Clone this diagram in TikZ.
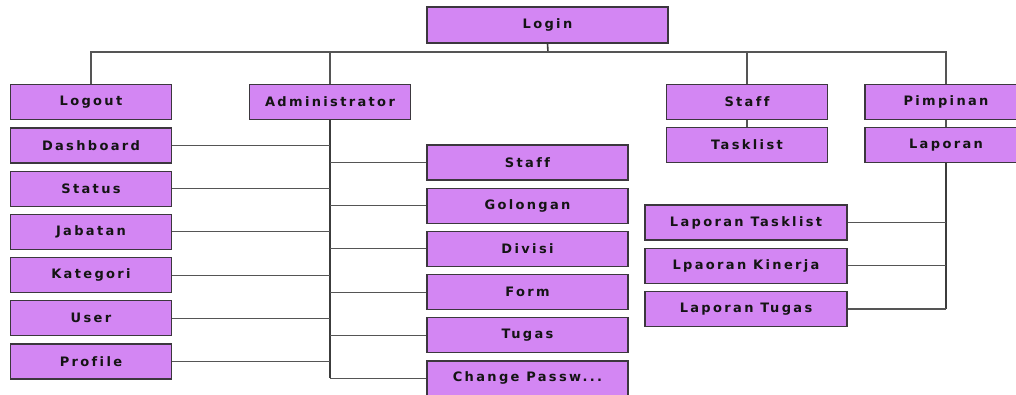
\documentclass[tikz,border=0pt]{standalone}
\usepackage{fontspec}
\newfontfamily\boxfont{DejaVu Sans}[LetterSpace=18,Ligatures=NoCommon]
\definecolor{boxfill}{RGB}{211,134,243}
\definecolor{boxline}{RGB}{60,55,62}
\definecolor{txt}{RGB}{20,20,20}
\definecolor{wire}{RGB}{85,85,85}
\tikzset{
  box/.style={draw=boxline, fill=boxfill, line width=1.4pt, minimum height=35, inner sep=0,
    text=txt, font=\boxfont\bfseries\fontsize{13}{14}\selectfont},
  leftbox/.style={box, minimum width=161},
  subbox/.style={box, minimum width=201},
  wire/.style={draw=wire, line width=1pt},
  trunk/.style={draw=wire!70!black, line width=1.6pt},
}
\begin{document}
\begin{tikzpicture}[x=1pt,y=-1pt]
\useasboundingbox (0,0) rectangle (1016,394);
\clip (0,0) rectangle (1016,394);
% top level
\node[box, minimum width=241, minimum height=36] (login) at (547.5,25) {Login};
\node[leftbox] (logout) at (91,102) {Logout};
\node[leftbox] (admin) at (330,102) {Administrator};
\node[leftbox] (staff) at (747,102) {Staff};
\node[leftbox, minimum width=162] (pimp) at (946,102) {Pimpinan};
\coordinate (bus) at (548,52);
% left column
\node[leftbox] (dash) at (91,145.5) {Dashboard};
\node[leftbox] (status) at (91,188.7) {Status};
\node[leftbox] (jab) at (91,231.9) {Jabatan};
\node[leftbox] (kat) at (91,275) {Kategori};
\node[leftbox] (user) at (91,318.2) {User};
\node[leftbox] (prof) at (91,361.4) {Profile};
% admin sub column
\node[subbox] (sstaff) at (527.5,162.5) {Staff};
\node[subbox] (gol) at (527.5,205.7) {Golongan};
\node[subbox] (div) at (527.5,248.9) {Divisi};
\node[subbox] (form) at (527.5,292) {Form};
\node[subbox] (tugas) at (527.5,335.2) {Tugas};
\node[subbox] (chpw) at (527.5,378.4) {Change Passw...};
\coordinate (aend) at (330,378.4);
% staff / pimpinan
\node[leftbox] (task) at (747,145) {Tasklist};
\node[leftbox, minimum width=162] (lap) at (946,145) {Laporan};
\node[subbox, minimum width=202] (lt) at (746,222.5) {Laporan Tasklist};
\node[subbox, minimum width=202] (lk) at (746,265.7) {Lpaoran Kinerja};
\node[subbox, minimum width=202] (lg) at (746,308.9) {Laporan Tugas};
\coordinate (lend) at (946,308.9);
% connectors: top bus
\draw[trunk] (login.south) -- (bus);
\draw[wire, line width=1.5pt] (logout.north) |- (bus) -| (pimp.north);
\draw[wire, line width=1.5pt] (bus) -| (admin.north);
\draw[wire, line width=1.5pt] (bus) -| (staff.north);
% administrator trunk
\draw[trunk] (admin.south) -- (aend);
\foreach \n in {dash,status,jab,kat,user,prof}
  \draw[wire] (\n.east) -- (\n.east -| admin.south);
\foreach \n in {sstaff,gol,div,form,tugas,chpw}
  \draw[wire] (\n.west) -- (\n.west -| admin.south);
% staff / pimpinan
\draw[wire, line width=1.5pt] (staff.south) -- (task.north);
\draw[wire, line width=1.5pt] (pimp.south) -- (lap.north);
\draw[trunk] (lap.south) -- (lend);
\foreach \n in {lt,lk,lg}
  \draw[wire, line width=1.3pt] (\n.east) -- (\n.east -| lap.south);
\end{tikzpicture}
\end{document}
